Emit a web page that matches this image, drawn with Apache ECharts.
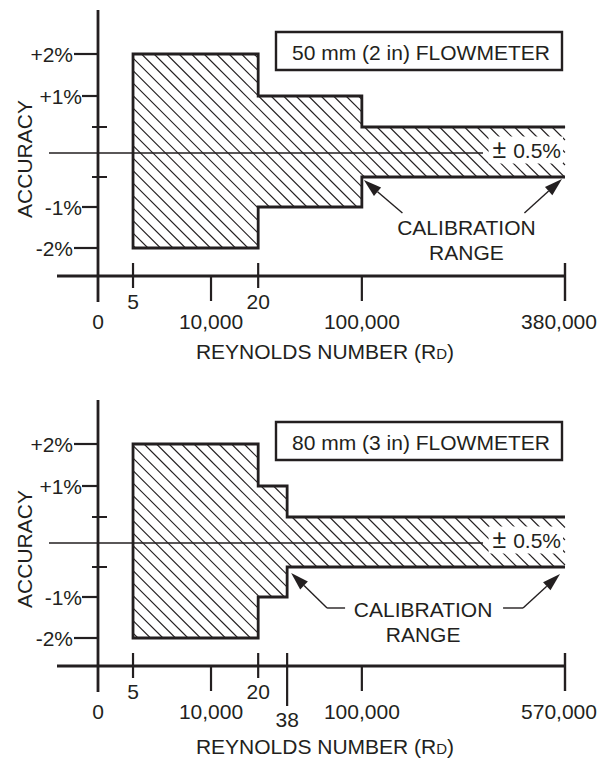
<!DOCTYPE html>
<html>
<head>
<meta charset="utf-8">
<script src="https://cdn.jsdelivr.net/npm/echarts@6/dist/echarts.min.js"></script>
<style>
html,body{margin:0;padding:0;background:#fff;}
#chart{width:599px;height:759px;}
</style>
</head>
<body>
<div id="chart"></div>
<script>
// ---------------- data ----------------
const panelTitles = ['50 mm (2 in) FLOWMETER', '80 mm (3 in) FLOWMETER'];

// accuracy envelope steps (Reynolds number from / to, ± accuracy %)
const stepStartTop = [5000, 20000, 100000];
const stepEndTop = [20000, 100000, 380000];
const stepAccTop = [2, 1, 0.5];

const stepStartBottom = [5000, 20000, 38000];
const stepEndBottom = [20000, 38000, 570000];
const stepAccBottom = [2, 1, 0.5];

// x-axis ticks
const xTickValuesTop = [0, 5000, 10000, 20000, 100000, 380000];
const xTickLabelsTop = ['0', '5', '10,000', '20', '100,000', '380,000'];
const xTickValuesBottom = [0, 5000, 10000, 20000, 38000, 100000, 570000];
const xTickLabelsBottom = ['0', '5', '10,000', '20', '38', '100,000', '570,000'];

// y-axis ticks
const yTickValues = [2, 1, 0.5, -0.5, -1, -2];
const yTickLabels = ['+2%', '+1%', '', '', '-1%', '-2%'];

const bandLabel = '{pm|±} 0.5%';
const calloutLines = ['CALIBRATION', 'RANGE'];
const xAxisTitle = 'REYNOLDS NUMBER (R{s|D})';
const yAxisTitle = 'ACCURACY';

// ---------------- schematic axis scales (non-proportional, as drawn) ----------------
const xScaleTop = { values: [0, 5000, 10000, 20000, 100000, 380000], frac: [0, 0.075, 0.242, 0.343, 0.565, 1] };
const xScaleBottom = { values: [0, 5000, 10000, 20000, 38000, 100000, 570000], frac: [0, 0.075, 0.242, 0.343, 0.405, 0.565, 1] };
const yScale = { values: [-2, -1, -0.5, 0, 0.5, 1, 2], pos: [-95, -54, -24, 0, 26, 57, 99] };
const Y_MIN = -123, Y_MAX = 143;

const FONT = "'Liberation Sans', Arial, Helvetica, sans-serif";
const INK = '#231f20';
const FS = 21;

function interp(xs, ys, v) {
  for (let i = 0; i < xs.length - 1; i++) {
    if (v <= xs[i + 1]) {
      const t = (v - xs[i]) / (xs[i + 1] - xs[i]);
      return ys[i] + t * (ys[i + 1] - ys[i]);
    }
  }
  return ys[ys.length - 1];
}

const panels = [
  { title: panelTitles[0], start: stepStartTop, end: stepEndTop, acc: stepAccTop,
    ticks: xTickValuesTop, labels: xTickLabelsTop, scale: xScaleTop,
    kinds: ['origin', 'cross', 'down', 'cross', 'down', 'end'],
    callout: { dx: 3, dy: 74, leader: false }, titleDy: 75 },
  { title: panelTitles[1], start: stepStartBottom, end: stepEndBottom, acc: stepAccBottom,
    ticks: xTickValuesBottom, labels: xTickLabelsBottom, scale: xScaleBottom,
    kinds: ['origin', 'cross', 'down', 'cross', 'long', 'down', 'end'],
    callout: { dx: -3, dy: 66, leader: true }, titleDy: 80 }
];

function txt(x, y, text, align, vAlign, extra) {
  return { type: 'text', x: x, y: y, style: Object.assign({
    text: text, fill: INK, fontSize: FS, fontFamily: FONT,
    align: align || 'center', verticalAlign: vAlign || 'middle'
  }, extra || {}) };
}
function ln(x1, y1, x2, y2, w) {
  return { type: 'line', shape: { x1: x1, y1: y1, x2: x2, y2: y2 }, style: { stroke: INK, lineWidth: w || 2 } };
}
function arrowHead(tail, tip, L, W) {
  const dx = tip[0] - tail[0], dy = tip[1] - tail[1];
  const len = Math.sqrt(dx * dx + dy * dy);
  const ux = dx / len, uy = dy / len;
  const bx = tip[0] - ux * L, by = tip[1] - uy * L;
  const nx = -uy, ny = ux;
  return [
    ln(tail[0], tail[1], bx, by, 1.4),
    { type: 'polygon', shape: { points: [tip, [bx + nx * W / 2, by + ny * W / 2], [bx - nx * W / 2, by - ny * W / 2]] },
      style: { fill: INK } }
  ];
}

function makeRender(p) {
  return function (params, api) {
    const X = re => api.coord([interp(p.scale.values, p.scale.frac, re), 0])[0];
    const Y = a => api.coord([0, interp(yScale.values, yScale.pos, a)])[1];
    const n = p.acc.length;
    const x0 = X(0);
    const xEnd = X(p.end[n - 1]);
    const yZero = Y(0);
    const yAx = api.coord([0, Y_MIN])[1];
    const yTop = api.coord([0, Y_MAX])[1];
    const ch = [];

    // hatching clipped to the stepped envelope
    const rects = p.start.map((s, k) => ({ l: X(s), r: X(p.end[k]), t: Y(p.acc[k]), b: Y(-p.acc[k]) }));
    const P = 12.5;
    const minC = Math.min.apply(null, rects.map(r => r.l - r.b));
    const maxC = Math.max.apply(null, rects.map(r => r.r - r.t));
    for (let c = Math.floor(minC / P) * P; c <= maxC; c += P) {
      rects.forEach(r => {
        const ya = Math.max(r.t, r.l - c), yb = Math.min(r.b, r.r - c);
        if (yb > ya) ch.push(ln(c + ya, ya, c + yb, yb, 1.1));
      });
    }

    // zero line and band label
    ch.push(ln(x0 - 49, yZero, xEnd - 82, yZero, 1.6));
    ch.push(txt(xEnd - 2, yZero - 3, bandLabel, 'right', 'middle', {
      backgroundColor: '#fff', padding: [0, 2, 0, 4],
      rich: { pm: { fontSize: 25, fontFamily: FONT, fill: INK, padding: [0, 1, 2, 0] } }
    }));

    // envelope outline (open on the right)
    const pts = [[xEnd, Y(p.acc[n - 1])]];
    for (let k = n - 1; k >= 0; k--) {
      pts.push([X(p.start[k]), Y(p.acc[k])]);
      if (k > 0) pts.push([X(p.start[k]), Y(p.acc[k - 1])]);
    }
    pts.push([X(p.start[0]), Y(-p.acc[0])]);
    for (let k = 0; k < n; k++) {
      pts.push([X(p.end[k]), Y(-p.acc[k])]);
      if (k < n - 1) pts.push([X(p.end[k]), Y(-p.acc[k + 1])]);
    }
    ch.push({ type: 'polyline', shape: { points: pts }, style: { fill: null, stroke: INK, lineWidth: 2.8, lineJoin: 'miter' } });

    // axes
    ch.push(ln(x0, yTop, x0, yAx + 26, 2.8));
    ch.push(ln(x0 - 41, yAx, xEnd, yAx, 2.8));

    // y ticks + labels
    yTickValues.forEach((v, i) => {
      const y = Y(v);
      const lab = yTickLabels[i];
      if (!lab) {
        ch.push(ln(x0 - 6, y, x0 + 9, y, 2));
      } else {
        const big = Math.abs(v) >= 2;
        const start = big ? x0 - 24 : x0 - 16;
        ch.push(ln(start, y, x0, y, 2.2));
        ch.push(txt(start - (big ? 1 : 0), y, lab, 'right', 'middle'));
      }
    });

    // x ticks + labels
    p.ticks.forEach((v, i) => {
      const x = X(v);
      const kind = p.kinds[i];
      let labY = yAx + 45, labX = x;
      if (kind === 'cross') { ch.push(ln(x, yAx - 13, x, yAx + 12, 2.2)); labY = yAx + 25; }
      else if (kind === 'down') { ch.push(ln(x, yAx, x, yAx + 25, 2.2)); }
      else if (kind === 'end') { ch.push(ln(x, yAx - 13, x, yAx + 25, 2.4)); labX = x - 6; }
      else if (kind === 'long') { ch.push(ln(x, yAx - 13, x, yAx + 40, 2.2)); labY = yAx + 53; }
      ch.push(txt(labX, labY, p.labels[i], 'center', 'middle'));
    });

    // title box
    const bw = 286, bh = 38;
    const bx = xEnd - 3 - bw, by = yTop + 22;
    ch.push({ type: 'rect', shape: { x: bx, y: by, width: bw, height: bh }, style: { fill: '#fff', stroke: INK, lineWidth: 2.4 } });
    ch.push(txt(bx + bw / 2 + 2, by + bh / 2 + 1, p.title, 'center', 'middle'));

    // calibration range callout
    const lastStart = X(p.start[n - 1]);
    const cx = (lastStart + xEnd) / 2 + p.callout.dx;
    const cy = yZero + p.callout.dy;
    ch.push(txt(cx, cy, calloutLines[0], 'center', 'middle'));
    ch.push(txt(cx, cy + 25, calloutLines[1], 'center', 'middle'));
    const yLow = Y(-p.acc[n - 1]);
    if (!p.callout.leader) {
      const tipL = [lastStart + 2, yLow + 3], tipR = [xEnd - 3, yLow + 2];
      arrowHead([cx - 64, cy - 14], tipL, 18, 11).forEach(e => ch.push(e));
      arrowHead([cx + 58, cy - 14], tipR, 18, 11).forEach(e => ch.push(e));
    } else {
      const tipL = [lastStart + 4, yLow + 6], tipR = [xEnd - 5, yLow + 7];
      ch.push(ln(cx - 78, cy - 1, cx - 96, cy - 1, 1.4));
      arrowHead([cx - 96, cy - 1], tipL, 18, 11).forEach(e => ch.push(e));
      ch.push(ln(cx + 80, cy - 1, cx + 100, cy - 1, 1.4));
      arrowHead([cx + 100, cy - 1], tipR, 18, 11).forEach(e => ch.push(e));
    }

    // axis titles
    ch.push({ type: 'text', x: x0 + 227, y: yAx + p.titleDy, style: {
      text: xAxisTitle, fill: INK, fontSize: FS, fontFamily: FONT, align: 'center', verticalAlign: 'middle',
      rich: { s: { fontSize: 15, fontFamily: FONT, fill: INK, verticalAlign: 'bottom', padding: [0, 0, 1, 0] } }
    } });
    ch.push({ type: 'text', x: 24, y: yZero + 6, rotation: Math.PI / 2, style: {
      text: yAxisTitle, fill: INK, fontSize: FS, fontFamily: FONT, align: 'center', verticalAlign: 'middle'
    } });

    return { type: 'group', children: ch };
  };
}

const chart = echarts.init(document.getElementById('chart'), null, { renderer: 'svg' });
const option = {
  animation: false,
  backgroundColor: '#fff',
  grid: [
    { left: 98, top: 10, width: 467, height: 266 },
    { left: 98, top: 400, width: 467, height: 266 }
  ],
  xAxis: [0, 1].map(i => ({ type: 'value', gridIndex: i, min: 0, max: 1, show: false })),
  yAxis: [0, 1].map(i => ({ type: 'value', gridIndex: i, min: Y_MIN, max: Y_MAX, show: false })),
  series: panels.map((p, i) => ({
    type: 'custom',
    xAxisIndex: i,
    yAxisIndex: i,
    clip: false,
    silent: true,
    data: [[0, 0]],
    renderItem: makeRender(p)
  }))
};
chart.setOption(option);
</script>
</body>
</html>
